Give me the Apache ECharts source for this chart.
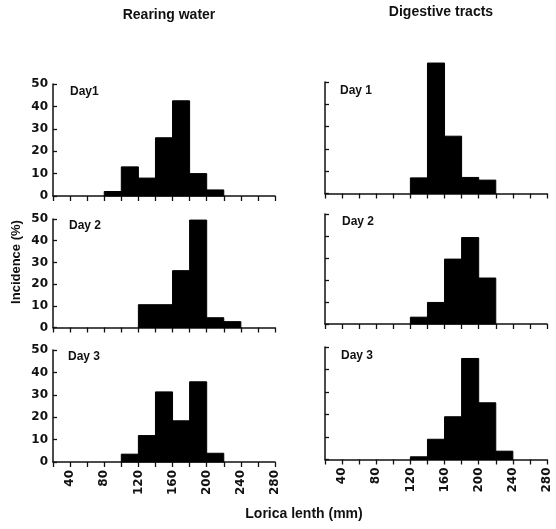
<!DOCTYPE html>
<html>
<head>
<meta charset="utf-8">
<script src="https://cdn.jsdelivr.net/npm/echarts@6/dist/echarts.min.js"></script>
<style>
  html, body { margin: 0; padding: 0; background: #fff; }
  #chart { width: 556px; height: 529px; }
</style>
</head>
<body>
<div id="chart"></div>
<script>
// left edge of each 20 mm size class
const binLeft = [20, 40, 60, 80, 100, 120, 140, 160, 180, 200, 220, 240, 260];
const binWidth = 20;

// incidence (%) per size class
const rearingDay1 = [0, 0, 0, 2, 13, 8, 26, 42.5, 10, 2.7, 0, 0, 0];
const rearingDay2 = [0, 0, 0, 0, 0, 10.5, 10.5, 26.2, 49.5, 4.5, 2.7, 0, 0];
const rearingDay3 = [0, 0, 0, 0, 3.5, 11.8, 31.3, 18.4, 35.8, 3.9, 0, 0, 0];
const digestDay1 = [0, 0, 0, 0, 0, 7, 58.5, 25.7, 7.2, 6, 0, 0, 0];
const digestDay2 = [0, 0, 0, 0, 0, 3.1, 9.8, 29.5, 39.3, 20.9, 0, 0, 0];
const digestDay3 = [0, 0, 0, 0, 0, 1.2, 9, 19, 44.9, 25.2, 3.7, 0, 0];

const xTickLabels = [40, 80, 120, 160, 200, 240, 280];
const yTickLabels = [0, 10, 20, 30, 40, 50];

const panels = [
  { name: "Day1",  data: rearingDay1, col: 0, row: 0 },
  { name: "Day 2", data: rearingDay2, col: 0, row: 1 },
  { name: "Day 3", data: rearingDay3, col: 0, row: 2 },
  { name: "Day 1", data: digestDay1,  col: 1, row: 0 },
  { name: "Day 2", data: digestDay2,  col: 1, row: 1 },
  { name: "Day 3", data: digestDay3,  col: 1, row: 2 },
];

// plot boxes
const colLeft = [53, 325];
const plotWidth = 222;
const rowBox = [
  [[84, 112], [219, 108.5], [350, 112]],
  [[82, 111.5], [214, 110], [347, 112.5]],
];
const dayLabelPos = [
  [[70, 93], [69, 227], [68, 358]],
  [[340, 92], [342, 223], [341, 357]],
];

const numFont = "DejaVu Sans";
const textFont = "Liberation Sans";
const ink = "#111";

function renderBin(params, api) {
  const x0 = api.value(0);
  const v = api.value(1);
  if (!v) return null;
  const p0 = api.coord([x0, v]);
  const p1 = api.coord([x0 + binWidth, 0]);
  return {
    type: "rect",
    shape: { x: p0[0], y: p0[1], width: p1[0] - p0[0], height: p1[1] - p0[1] },
    style: { fill: "#000", stroke: "#000", lineWidth: 1 },
  };
}

let grid = [], xAxis = [], yAxis = [], series = [], graphic = [];

panels.forEach((p, i) => {
  const box = rowBox[p.col][p.row];
  grid.push({ left: colLeft[p.col], top: box[0], width: plotWidth, height: box[1] });
  xAxis.push({
    gridIndex: i,
    type: "value",
    min: 20,
    max: 280,
    interval: 20,
    splitLine: { show: false },
    axisLine: { onZero: false, lineStyle: { color: ink, width: 1.5 } },
    axisTick: { length: 5, lineStyle: { color: ink, width: 1.3 } },
    axisLabel: {
      show: p.row === 2,
      rotate: 90,
      margin: 8,
      showMinLabel: true,
      showMaxLabel: true,
      color: ink,
      fontFamily: numFont,
      fontWeight: "bold",
      fontSize: 12,
      formatter: (v) => (xTickLabels.includes(v) ? String(v) : ""),
    },
  });
  yAxis.push({
    gridIndex: i,
    type: "value",
    min: 0,
    max: 50,
    interval: 10,
    splitLine: { show: false },
    axisLine: { show: true, onZero: false, lineStyle: { color: ink, width: 1.5 } },
    axisTick: { show: true, inside: true, length: 4, lineStyle: { color: ink, width: 1.3 } },
    axisLabel: {
      show: p.col === 0,
      margin: 5,
      color: ink,
      fontFamily: numFont,
      fontWeight: "bold",
      fontSize: 12,
      formatter: (v) => (yTickLabels.includes(v) ? String(v) : ""),
    },
  });
  series.push({
    type: "custom",
    xAxisIndex: i,
    yAxisIndex: i,
    clip: false,
    renderItem: renderBin,
    encode: { x: 0, y: 1 },
    data: binLeft.map((b, k) => [b, p.data[k]]),
  });
  const lp = dayLabelPos[p.col][p.row];
  graphic.push({
    type: "text",
    left: lp[0],
    top: lp[1] - 7,
    style: { text: p.name, fill: ink, font: "bold 12px '" + textFont + "'" },
  });
});

graphic.push(
  {
    type: "text",
    x: 169,
    y: 15,
    style: { text: "Rearing water", fill: ink, font: "bold 14px '" + textFont + "'", align: "center", verticalAlign: "middle" },
  },
  {
    type: "text",
    x: 441,
    y: 12,
    style: { text: "Digestive tracts", fill: ink, font: "bold 14px '" + textFont + "'", align: "center", verticalAlign: "middle" },
  },
  {
    type: "text",
    x: 16,
    y: 262,
    rotation: Math.PI / 2,
    style: { text: "Incidence (%)", fill: ink, font: "bold 13px '" + textFont + "'", align: "center", verticalAlign: "middle" },
  },
  {
    type: "text",
    x: 304,
    y: 514,
    style: { text: "Lorica lenth (mm)", fill: ink, font: "bold 14px '" + textFont + "'", align: "center", verticalAlign: "middle" },
  }
);

const myChart = echarts.init(document.getElementById("chart"));
myChart.setOption({
  backgroundColor: "#fff",
  animation: false,
  grid: grid,
  xAxis: xAxis,
  yAxis: yAxis,
  series: series,
  graphic: graphic,
});
</script>
</body>
</html>
